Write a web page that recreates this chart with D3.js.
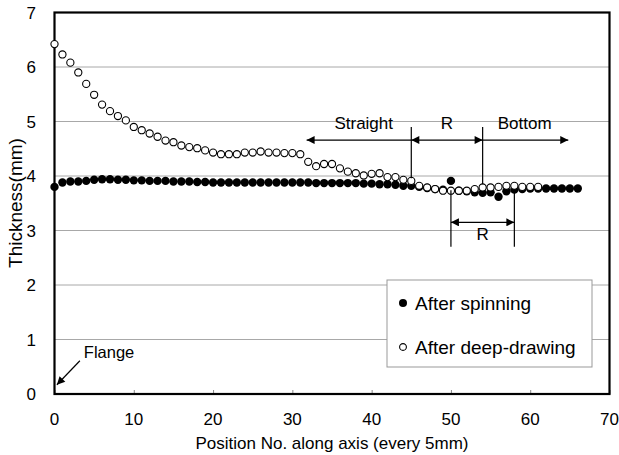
<!DOCTYPE html>
<html>
<head>
<meta charset="utf-8">
<script src="https://cdn.jsdelivr.net/npm/d3@7"></script>
<style>
  html, body { margin: 0; padding: 0; background: #fff; }
  svg { display: block; font-family: "Liberation Sans", Arial, sans-serif; }
</style>
</head>
<body>
<svg id="chart" width="619" height="455"></svg>
<script>
// ---- data ----
const xTicks = [0, 10, 20, 30, 40, 50, 60, 70];
const yTicks = [0, 1, 2, 3, 4, 5, 6, 7];
const seriesNames = ["After spinning", "After deep-drawing"];
const afterSpinning = [
  3.80, 3.88, 3.90, 3.90, 3.91, 3.93, 3.94, 3.94, 3.93, 3.93,
  3.92, 3.92, 3.91, 3.91, 3.91, 3.90, 3.90, 3.90, 3.89, 3.89,
  3.88, 3.88, 3.88, 3.88, 3.88, 3.88, 3.88, 3.88, 3.88, 3.88,
  3.88, 3.88, 3.88, 3.87, 3.87, 3.87, 3.87, 3.87, 3.87, 3.86,
  3.86, 3.85, 3.85, 3.84, 3.82, 3.82, 3.80, 3.78, 3.76, 3.75,
  3.91, 3.73, 3.72, 3.70, 3.69, 3.70, 3.62, 3.72, 3.75, 3.76,
  3.77, 3.77, 3.77, 3.77, 3.77, 3.77, 3.77
];
const afterDeepDrawing = [
  6.42, 6.23, 6.08, 5.90, 5.69, 5.49, 5.31, 5.19, 5.10, 5.02,
  4.90, 4.84, 4.78, 4.72, 4.65, 4.62, 4.56, 4.53, 4.51, 4.47,
  4.43, 4.40, 4.40, 4.40, 4.43, 4.43, 4.45, 4.43, 4.43, 4.42,
  4.42, 4.40, 4.26, 4.18, 4.22, 4.22, 4.14, 4.08, 4.05, 4.01,
  4.04, 4.05, 3.98, 3.98, 3.93, 3.91, 3.82, 3.79, 3.76, 3.73,
  3.73, 3.73, 3.73, 3.76, 3.79, 3.79, 3.80, 3.82, 3.82, 3.80,
  3.80, 3.80
];
// region boundaries (position numbers) and labels
const regionBounds = [45, 54];
const regionLabels = ["Straight", "R", "Bottom"];
const regionArrow = { from: 31.8, to: 64.8, y: 4.66, labelY: 4.86, lineTop: 4.90, lineBottoms: [3.96, 3.85] };
const spinR = { from: 50, to: 58, y: 3.15, top: 3.74, bottom: 2.70, labelY: 2.82, label: "R" };
const flange = { label: "Flange", from: [3.2, 0.61], to: [0.3, 0.17], textAt: [3.7, 0.66] };

// ---- layout ----
const svg = d3.select("#chart");
const x = d3.scaleLinear().domain([0, 70]).range([54.5, 609.5]);
const y = d3.scaleLinear().domain([0, 7]).range([394, 12.5]);

// gridlines
svg.append("g").selectAll("line").data(yTicks.filter(d => d > 0 && d < 7)).join("line")
  .attr("x1", x(0)).attr("x2", x(70))
  .attr("y1", d => y(d)).attr("y2", d => y(d))
  .attr("stroke", "#a8a8a8").attr("stroke-width", 1);

// x axis ticks (inward)
const xAxis = d3.axisBottom(x).tickValues(xTicks).tickSize(-4).tickPadding(0).tickFormat("");
const gx = svg.append("g").attr("transform", `translate(0,${y(0)})`).call(xAxis);
gx.select(".domain").remove();
gx.selectAll(".tick line").attr("stroke", "#888");
// x tick labels
svg.append("g").selectAll("text").data(xTicks).join("text")
  .attr("x", d => x(d)).attr("y", 425)
  .attr("text-anchor", "middle").attr("font-size", 17).attr("fill", "#000")
  .text(d => d);
// y tick labels
svg.append("g").selectAll("text").data(yTicks).join("text")
  .attr("x", 36).attr("y", d => y(d) + 6)
  .attr("text-anchor", "end").attr("font-size", 17).attr("fill", "#000")
  .text(d => d);

// frame
svg.append("rect")
  .attr("x", x(0)).attr("y", y(7))
  .attr("width", x(70) - x(0)).attr("height", y(0) - y(7))
  .attr("fill", "none").attr("stroke", "#000").attr("stroke-width", 2.2);

// axis titles
svg.append("text").attr("x", 332).attr("y", 449)
  .attr("text-anchor", "middle").attr("font-size", 17).attr("fill", "#000")
  .text("Position No. along axis (every 5mm)");
svg.append("text").attr("transform", "translate(22,203) rotate(-90)")
  .attr("text-anchor", "middle").attr("font-size", 19).attr("fill", "#000")
  .text("Thickness(mm)");

// arrow marker
const defs = svg.append("defs");
defs.append("marker").attr("id", "ah").attr("viewBox", "0 0 10 10")
  .attr("refX", 10).attr("refY", 5).attr("markerWidth", 10).attr("markerHeight", 8)
  .attr("markerUnits", "userSpaceOnUse").attr("orient", "auto-start-reverse")
  .append("path").attr("d", "M0,0 L10,5 L0,10 Z").attr("fill", "#000");

// data points
const spinData = afterSpinning.map((v, i) => ({ x: i, y: v }));
const deepData = afterDeepDrawing.map((v, i) => ({ x: i, y: v }));
svg.append("g").selectAll("circle").data(spinData).join("circle")
  .attr("cx", d => x(d.x)).attr("cy", d => y(d.y)).attr("r", 4.2)
  .attr("fill", "#000");
svg.append("g").selectAll("circle").data(deepData).join("circle")
  .attr("cx", d => x(d.x)).attr("cy", d => y(d.y)).attr("r", 3.6)
  .attr("fill", "#fff").attr("stroke", "#000").attr("stroke-width", 1.1);

// region annotations
const ann = svg.append("g").attr("stroke", "#000").attr("stroke-width", 1.2);
regionBounds.forEach((b, i) => {
  ann.append("line").attr("x1", x(b)).attr("x2", x(b))
    .attr("y1", y(regionArrow.lineTop)).attr("y2", y(regionArrow.lineBottoms[i]));
});
// Straight: head at left only
ann.append("line").attr("x1", x(regionBounds[0])).attr("x2", x(regionArrow.from))
  .attr("y1", y(regionArrow.y)).attr("y2", y(regionArrow.y)).attr("marker-end", "url(#ah)");
// R: both heads
ann.append("line").attr("x1", x(regionBounds[0])).attr("x2", x(regionBounds[1]))
  .attr("y1", y(regionArrow.y)).attr("y2", y(regionArrow.y))
  .attr("marker-start", "url(#ah)").attr("marker-end", "url(#ah)");
// Bottom: head at right
ann.append("line").attr("x1", x(regionBounds[1])).attr("x2", x(regionArrow.to))
  .attr("y1", y(regionArrow.y)).attr("y2", y(regionArrow.y)).attr("marker-end", "url(#ah)");
const labelXs = [(regionArrow.from + regionBounds[0]) / 2 + 0.6, (regionBounds[0] + regionBounds[1]) / 2, 59.3];
svg.append("g").selectAll("text").data(regionLabels).join("text")
  .attr("x", (d, i) => x(labelXs[i])).attr("y", y(regionArrow.labelY))
  .attr("text-anchor", "middle").attr("font-size", 17).attr("fill", "#000")
  .text(d => d);

// spinning R
[spinR.from, spinR.to].forEach(b => {
  ann.append("line").attr("x1", x(b)).attr("x2", x(b))
    .attr("y1", y(spinR.top)).attr("y2", y(spinR.bottom));
});
ann.append("line").attr("x1", x(spinR.from)).attr("x2", x(spinR.to))
  .attr("y1", y(spinR.y)).attr("y2", y(spinR.y))
  .attr("marker-start", "url(#ah)").attr("marker-end", "url(#ah)");
svg.append("text").attr("x", x((spinR.from + spinR.to) / 2)).attr("y", y(spinR.labelY))
  .attr("text-anchor", "middle").attr("font-size", 17).attr("fill", "#000").text(spinR.label);

// flange
ann.append("line").attr("x1", x(flange.from[0])).attr("y1", y(flange.from[1]))
  .attr("x2", x(flange.to[0])).attr("y2", y(flange.to[1])).attr("marker-end", "url(#ah)");
svg.append("text").attr("x", x(flange.textAt[0])).attr("y", y(flange.textAt[1]))
  .attr("font-size", 16.5).attr("fill", "#000").text(flange.label);

// legend
const lg = svg.append("g");
lg.append("rect").attr("x", 387).attr("y", 280).attr("width", 205).attr("height", 87)
  .attr("fill", "#fff").attr("stroke", "#999").attr("stroke-width", 1);
const legendItems = lg.selectAll("g").data(seriesNames).join("g")
  .attr("transform", (d, i) => `translate(403,${303 + i * 44})`);
legendItems.append("circle").attr("r", (d, i) => i === 0 ? 4 : 3.4)
  .attr("fill", (d, i) => i === 0 ? "#000" : "#fff")
  .attr("stroke", "#000").attr("stroke-width", (d, i) => i === 0 ? 0 : 1.1);
legendItems.append("text").attr("x", 12).attr("y", 7)
  .attr("font-size", 19).attr("fill", "#000").text(d => d);
</script>
</body>
</html>
